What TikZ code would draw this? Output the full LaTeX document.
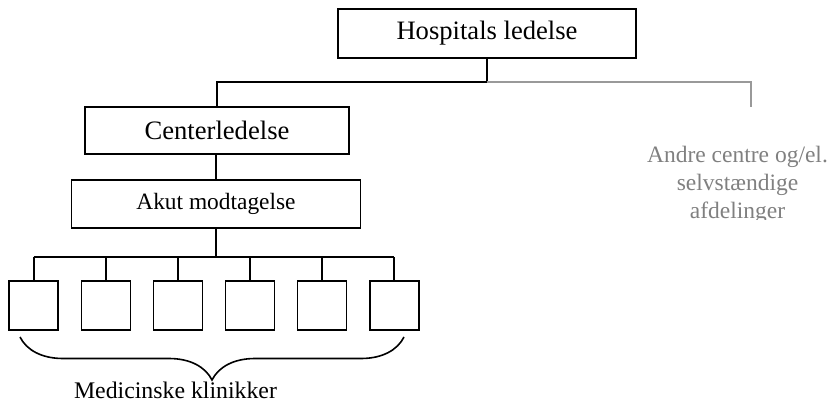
\documentclass[tikz,border=0pt]{standalone}
\usepackage{fontspec}
\setmainfont{Liberation Serif}
\usetikzlibrary{calc,decorations.pathreplacing}

\begin{document}
\begin{tikzpicture}[x=1pt,y=-1pt,line width=1.6pt,
    unitbox/.style={draw, inner sep=0pt, font=\fontsize{26.6}{32}\selectfont},
    subbox/.style={draw, inner sep=0pt, font=\fontsize{23.4}{28}\selectfont},
    klinik/.style={draw, inner sep=0pt, minimum width=49, minimum height=49}]
  \useasboundingbox (0,0) rectangle (829,409);

  %top
  \node[unitbox, minimum width=298, minimum height=49] (Hosp) at (487, 33.5) {Hospitals ledelse};
  \coordinate (HospJ) at (487, 82);
  \coordinate (AndreT) at (751, 82);
  \coordinate (AndreB) at (751, 107);

  %center
  \node[unitbox, minimum width=264, minimum height=47] (Cent) at (217, 130.5) {Centerledelse};
  \node[subbox, minimum width=289, minimum height=48] (Akut) at (216, 204) {Akut modtagelse};
  \coordinate (AkutJ) at (216, 257);

  \draw (Hosp.south) -- (HospJ) -| (Cent.north);
  \draw[color=black!40] (HospJ) -- (AndreT) -- (AndreB);
  \draw (Cent.south -| Akut.north) -- (Akut.north);
  \draw (Akut.south) -- (AkutJ);

  %klinikker
  \foreach \i in {1,...,6} {
    \node[klinik] (K\i) at ({33.7+72.1*(\i-1)}, 305.5) {};
    \draw (K\i.north) -- (K\i.north |- AkutJ);
  }
  \draw (K1.north |- AkutJ) -- (K6.north |- AkutJ);

  \coordinate (BrL) at (20, 337);
  \coordinate (BrR) at (404, 337);
  \draw[decorate, decoration={brace, mirror, amplitude=43pt}] (BrL) -- (BrR);
  \node[anchor=base, inner sep=0pt, font=\fontsize{23.8}{28}\selectfont] (Med) at (175.5, 398) {Medicinske klinikker};

  %andre
  \begin{scope}
    \clip (600, 120) rectangle (829, 219);
    \node[anchor=north, inner sep=0pt, align=center, text=black!50,
      font=\fontsize{23.5}{28}\selectfont] (Andre) at (737.5, 145) {Andre centre og/el.\\selvstændige\\afdelinger};
  \end{scope}
\end{tikzpicture}
\end{document}
